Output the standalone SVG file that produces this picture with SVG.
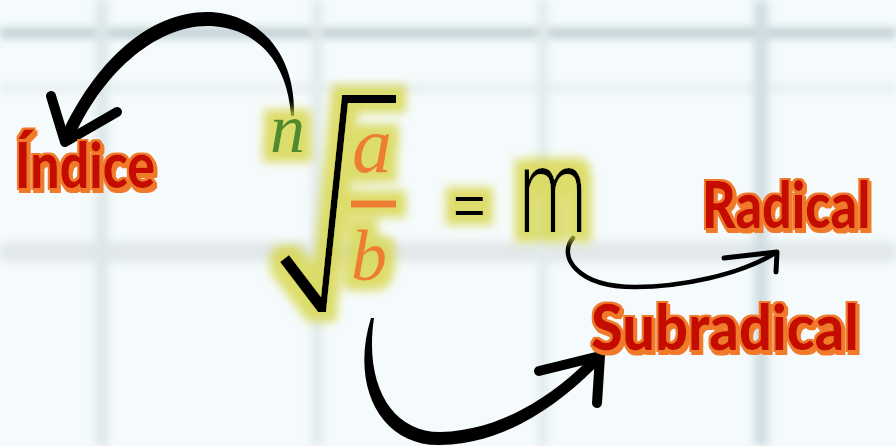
<svg xmlns="http://www.w3.org/2000/svg" width="896" height="446" viewBox="0 0 896 446">
<defs>
<filter id="soft" x="-20%" y="-20%" width="140%" height="140%"><feGaussianBlur stdDeviation="4"/></filter>
<filter id="glow" x="-40%" y="-40%" width="180%" height="180%">
<feMorphology in="SourceAlpha" operator="dilate" radius="10" result="d"/>
<feGaussianBlur in="d" stdDeviation="5" result="b"/>
<feFlood flood-color="#d6d545" flood-opacity="0.8"/>
<feComposite in2="b" operator="in" result="g"/>
<feMerge><feMergeNode in="g"/><feMergeNode in="SourceGraphic"/></feMerge>
</filter>
<filter id="outline" x="-3%" y="-12%" width="106%" height="130%">
<feMorphology in="SourceAlpha" operator="dilate" radius="1.8" result="d"/>
<feOffset in="d" dx="2" dy="3" result="o"/>
<feMerge result="u"><feMergeNode in="d"/><feMergeNode in="o"/></feMerge>
<feFlood flood-color="#f07a2a"/>
<feComposite in2="u" operator="in" result="c"/>
<feMerge><feMergeNode in="c"/><feMergeNode in="SourceGraphic"/></feMerge>
</filter>
<style>
.lbl{font-family:"Lato","Liberation Sans",sans-serif;font-weight:900;font-size:62px;fill:#c40c00}
.it{font-family:"Liberation Serif",serif;font-style:italic}
.ink{fill:#000}
.head{fill:none;stroke:#000;stroke-linecap:round;stroke-linejoin:round}
</style>
</defs>
<rect width="896" height="446" fill="#f5fbfc"/>
<g filter="url(#soft)">
<rect x="0" y="28" width="896" height="10" fill="#a9bcc2" opacity="0.75"/>
<rect x="0" y="85" width="896" height="6" fill="#e3eaed"/>
<rect x="0" y="242" width="896" height="20" fill="#dde3e5" opacity="0.8"/>
<rect x="96" y="0" width="12" height="446" fill="#dce6e9"/>
<rect x="312" y="0" width="10" height="446" fill="#e0e9eb"/>
<rect x="538" y="0" width="10" height="446" fill="#e2eaec"/>
<rect x="754" y="0" width="14" height="446" fill="#cfdde1"/>
</g>

<g id="connectors">
<g id="arrow-indice">
<path class="ink" d="M294,116 C296,50 255,12 207,12 C150,12 95,60 60,138 L72,142 C100,75 155,26 207,26 C250,26 287,55 291,116 Z"/>
<polyline class="head" stroke-width="10" points="51,96 65,142 117,112"/>
</g>
<g id="arrow-radical">
<path d="M573,238 C558,255 575,287 635,287 C680,287 740,275 775,253" fill="none" stroke="#000" stroke-width="4.5" stroke-linecap="round"/>
<polyline class="head" stroke-width="5" points="724,258 777,252 776,272"/>
</g>
<g id="arrow-subradical">
<path class="ink" d="M371,318 C350,385 380,446 440,445 C505,444 560,405 603,360 L594,354 C555,395 500,431 440,432 C392,432 364,385 374,318 Z"/>
<polyline class="head" stroke-width="10" points="539,371 600,356 597,403"/>
</g>
</g>

<g id="formula" filter="url(#glow)">
<text class="it" x="270" y="152" font-size="70" fill="#4f8a2f">n</text>
<path class="ink" d="M280,262 L289,255 L321,297 L342,95 L396,95 L396,103 L348,103 L326,312 L318,312 Z"/>
<text class="it" x="352" y="172" font-size="80" fill="#ed7d31">a</text>
<rect x="351" y="200.5" width="45" height="7" fill="#ed7d31"/>
<text class="it" x="351" y="280" font-size="72" fill="#ed7d31">b</text>
<text x="453" y="224" font-family="Liberation Sans,sans-serif" font-size="56" fill="#000">=</text>
<text x="519" y="232" font-family="Roboto,Liberation Sans,sans-serif" font-weight="300" font-size="118" textLength="68" lengthAdjust="spacingAndGlyphs" fill="#000">m</text>
</g>

<g id="label-indice" filter="url(#outline)">
<text class="lbl" x="15" y="188" textLength="140" lengthAdjust="spacingAndGlyphs">Índice</text>
</g>
<g id="label-radical" filter="url(#outline)">
<text class="lbl" transform="translate(702,228) scale(0.84,1.05)" x="0" y="0" font-size="60">Radical</text>
</g>
<g id="label-subradical" filter="url(#outline)">
<text class="lbl" x="591" y="350" textLength="268" lengthAdjust="spacingAndGlyphs">Subradical</text>
</g>
</svg>
